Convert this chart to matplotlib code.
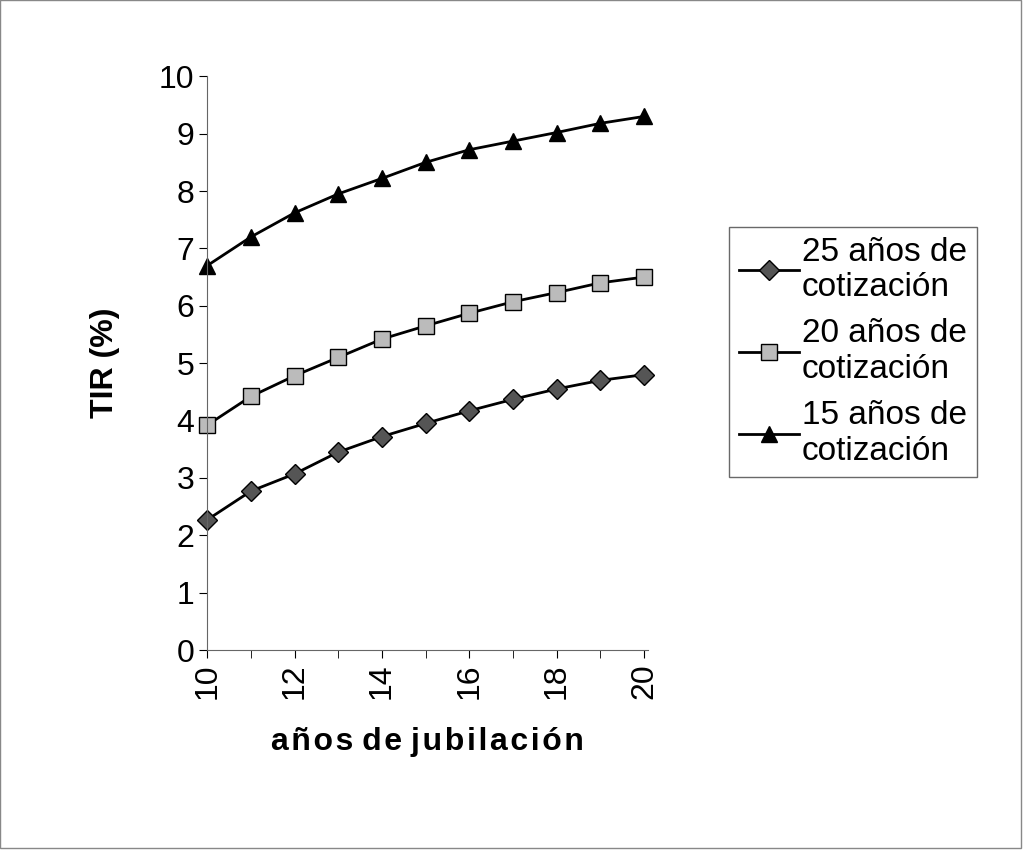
import matplotlib.pyplot as plt
from matplotlib.patches import Rectangle

plt.rcParams['font.family'] = ['Liberation Sans', 'DejaVu Sans']

anos = list(range(10, 21))
cot25 = [2.27, 2.77, 3.07, 3.45, 3.72, 3.95, 4.17, 4.37, 4.55, 4.70, 4.80]
cot20 = [3.92, 4.42, 4.78, 5.10, 5.42, 5.65, 5.87, 6.07, 6.23, 6.40, 6.50]
cot15 = [6.70, 7.20, 7.62, 7.95, 8.22, 8.50, 8.72, 8.87, 9.02, 9.18, 9.30]
etiquetas = ["25 años de\ncotización", "20 años de\ncotización", "15 años de\ncotización"]

fig = plt.figure(figsize=(10.26, 8.57), dpi=100)
ax = fig.add_axes([0.202, 0.2415, 0.43, 0.6695])

ax.plot(anos, cot25, color='black', lw=2, marker='D', ms=10, mfc='#555555', mec='black',
        label=etiquetas[0], clip_on=False)
ax.plot(anos, cot20, color='black', lw=2, marker='s', ms=11, mfc='#bbbbbb', mec='black',
        label=etiquetas[1], clip_on=False)
ax.plot(anos, cot15, color='black', lw=2, marker='^', ms=12, mfc='black', mec='black',
        label=etiquetas[2], clip_on=False)

ax.set_xlim(10, 20.1)
ax.set_ylim(0, 10)
ax.set_yticks(range(0, 11))
ax.set_xticks(range(10, 21, 2))
ax.set_xticks(range(10, 21), minor=True)
ax.tick_params(axis='both', labelsize=23, direction='out', length=6)
ax.tick_params(axis='x', which='both', rotation=90, length=6)
for s in ['top', 'right']:
    ax.spines[s].set_visible(False)
ax.spines['bottom'].set_color('#666666')
ax.spines['left'].set_color('#666666')

ax.set_ylabel("TIR (%)", fontsize=23, fontweight='bold', labelpad=28)
ax.set_xlabel("a ñ o s  d e  j u b i l a c i ó n".replace(" ", "\u200a").replace("\u200a\u200a", " "),
              fontsize=23, fontweight='bold', labelpad=20)

leg = fig.legend(loc='upper left', bbox_to_anchor=(0.694, 0.755), fontsize=24,
                 frameon=True, fancybox=False, edgecolor='#444444',
                 handlelength=1.8, handletextpad=0.1, labelspacing=0.45, borderpad=0.3)

fig.patches.append(Rectangle((0.0, 0.01), 0.995, 0.99, transform=fig.transFigure,
                             fill=False, edgecolor='#888888', lw=1))

fig.savefig("out.png", dpi=100)
